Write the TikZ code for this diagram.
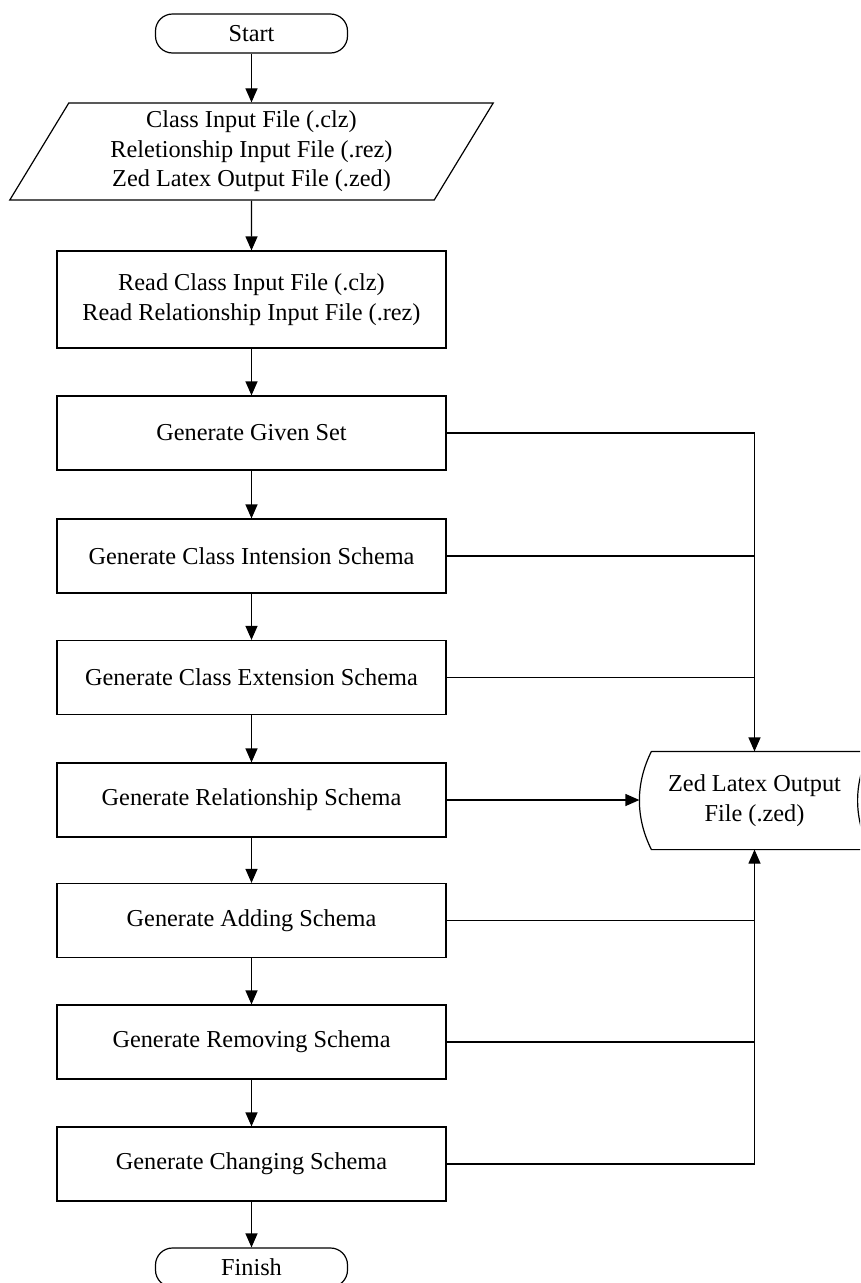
\documentclass[tikz,border=0pt]{standalone}
\usepackage{fontspec}
\setmainfont{Liberation Serif}
\usetikzlibrary{arrows.meta,shapes.geometric}
\begin{document}
\begin{tikzpicture}[x=1pt,y=-1pt,
    line width=1.2pt,
    every node/.style={font=\fontsize{24.3pt}{29.5pt}\selectfont, align=center},
    terminal/.style={draw, rounded corners=17pt, minimum width=192pt, minimum height=39pt},
    process/.style={draw, minimum width=389pt, minimum height=74pt},
    flow/.style={-{Triangle[width=12pt,length=14pt]}}]
    \clip (0,0) rectangle (860,1283);
    \node[terminal] (start) at (251.5,33.5) {Start};
    \node[draw, trapezium, trapezium left angle=62, trapezium right angle=118,
          trapezium stretches=true, minimum width=485pt, minimum height=97pt] (input) at (251.5,151.5)
          {Class Input File (.clz)\\Reletionship Input File (.rez)\\Zed Latex Output File (.zed)};
    \node[process, minimum height=97pt] (read) at (251.5,299.5)
          {Read Class Input File (.clz)\\Read Relationship Input File (.rez)};
    \node[process] (given) at (251.5,433) {Generate Given Set};
    \node[process] (intension) at (251.5,556) {Generate Class Intension Schema};
    \node[process] (extension) at (251.5,677.5) {Generate Class Extension Schema};
    \node[process] (relation) at (251.5,800) {Generate Relationship Schema};
    \node[process] (adding) at (251.5,920.5) {Generate Adding Schema};
    \node[process] (removing) at (251.5,1042) {Generate Removing Schema};
    \node[process] (changing) at (251.5,1164) {Generate Changing Schema};
    \node[terminal] (finish) at (251.5,1267.5) {Finish};
    % stored data: Zed output file
    \node[minimum width=229pt, minimum height=97pt] (zed) at (754.5,800.5) {Zed Latex Output\\File (.zed)};
    \draw ([xshift=12pt]zed.north west) -- (zed.north east)
        .. controls ([xshift=-16pt,yshift=-32pt]zed.north east) and ([xshift=-16pt,yshift=32pt]zed.south east) .. (zed.south east)
        -- ([xshift=12pt]zed.south west)
        .. controls ([xshift=-4pt,yshift=32pt]zed.south west) and ([xshift=-4pt,yshift=-32pt]zed.north west) .. ([xshift=12pt]zed.north west);
    % main flow
    \draw[flow] (start) -- (input);
    \draw[flow] (input) -- (read);
    \draw[flow] (read) -- (given);
    \draw[flow] (given) -- (intension);
    \draw[flow] (intension) -- (extension);
    \draw[flow] (extension) -- (relation);
    \draw[flow] (relation) -- (adding);
    \draw[flow] (adding) -- (removing);
    \draw[flow] (removing) -- (changing);
    \draw[flow] (changing) -- (finish);
    % outputs to the file
    \draw[flow] (given.east) -| (zed.north);
    \draw (intension.east) -- (intension.east -| zed.north);
    \draw (extension.east) -- (extension.east -| zed.north);
    \draw[flow] (relation.east) -- (relation.east -| zed.west);
    \draw (adding.east) -- (adding.east -| zed.south);
    \draw (removing.east) -- (removing.east -| zed.south);
    \draw[flow] (changing.east) -| (zed.south);
\end{tikzpicture}
\end{document}
